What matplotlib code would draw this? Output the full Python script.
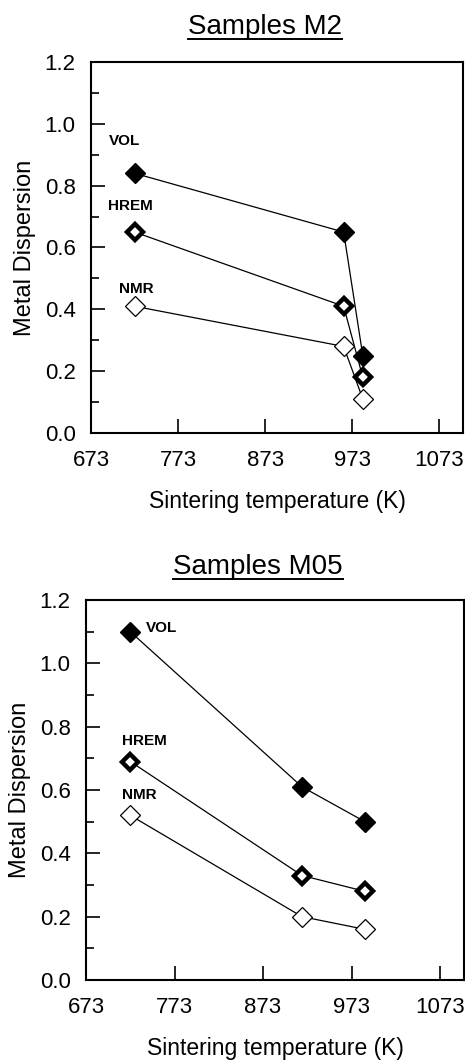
import matplotlib
matplotlib.use("Agg")
import matplotlib.pyplot as plt
from matplotlib.ticker import MultipleLocator
from matplotlib.lines import Line2D

plt.rcParams['font.family'] = ['Liberation Sans', 'DejaVu Sans']

# Samples M2
m2_temp = [723, 963, 985]
m2_vol = [0.84, 0.65, 0.25]
m2_hrem = [0.65, 0.41, 0.18]
m2_nmr = [0.41, 0.28, 0.11]

# Samples M05
m05_temp = [723, 917, 988]
m05_vol = [1.10, 0.61, 0.50]
m05_hrem = [0.69, 0.33, 0.28]
m05_nmr = [0.52, 0.20, 0.16]

xticks = [673, 773, 873, 973, 1073]

W, H = 465, 1062
fig = plt.figure(figsize=(W / 100, H / 100), dpi=100)
titles = []


def panel(rect, title, temp, vol, hrem, nmr, labels, title_xy):
    ax = fig.add_axes(rect)
    ax.plot(temp, vol, color='black', lw=0.9, marker='D', ms=10,
            mfc='black', mec='black', mew=1)
    ax.plot(temp, hrem, color='black', lw=0.9, marker='D', ms=8.5,
            mfc='white', mec='black', mew=3.2)
    ax.plot(temp, nmr, color='black', lw=0.9, marker='D', ms=10,
            mfc='white', mec='black', mew=0.9)
    for name, (x, y) in labels.items():
        ax.text(x, y, name, fontsize=11, fontweight='bold', ha='left', va='center')
    ax.set_xlim(673, 1100)
    ax.set_ylim(0, 1.2)
    ax.set_xticks(xticks)
    ax.yaxis.set_major_locator(MultipleLocator(0.2))
    ax.yaxis.set_minor_locator(MultipleLocator(0.1))
    ax.yaxis.set_major_formatter(plt.FormatStrFormatter('%.1f'))
    ax.tick_params(which='both', direction='in', top=False, right=False)
    ax.tick_params(axis='y', which='major', length=10, width=1.2, pad=11, labelsize=16)
    ax.tick_params(axis='y', which='minor', length=6, width=1.2)
    ax.tick_params(axis='x', which='major', length=10, width=1.2, pad=12, labelsize=16)
    for s in ax.spines.values():
        s.set_linewidth(1.5)
    ax.set_xlabel('Sintering temperature (K)', fontsize=16.5, labelpad=14)
    ax.set_ylabel('Metal Dispersion', fontsize=17, labelpad=6)
    t = fig.text(title_xy[0] / W, 1 - title_xy[1] / H, 'Samples ' + title,
                 fontsize=20, ha='center', va='center')
    titles.append(t)
    return ax


panel([91 / W, 1 - 433 / H, (463 - 91) / W, 371 / H], 'M2',
      m2_temp, m2_vol, m2_hrem, m2_nmr,
      {'VOL': (694, 0.945), 'HREM': (692, 0.735), 'NMR': (705, 0.465)},
      (265, 27))

panel([86 / W, 1 - 980 / H, (464 - 86) / W, 380 / H], 'M05',
      m05_temp, m05_vol, m05_hrem, m05_nmr,
      {'VOL': (741, 1.11), 'HREM': (714, 0.755), 'NMR': (714, 0.585)},
      (258, 567))

# underline the titles
fig.canvas.draw()
for t in titles:
    bb = t.get_window_extent().transformed(fig.transFigure.inverted())
    y = bb.y0 + 1.5 / H
    fig.add_artist(Line2D([bb.x0, bb.x1], [y, y], transform=fig.transFigure,
                          color='black', lw=1.4))

fig.savefig('out.png', dpi=100)
